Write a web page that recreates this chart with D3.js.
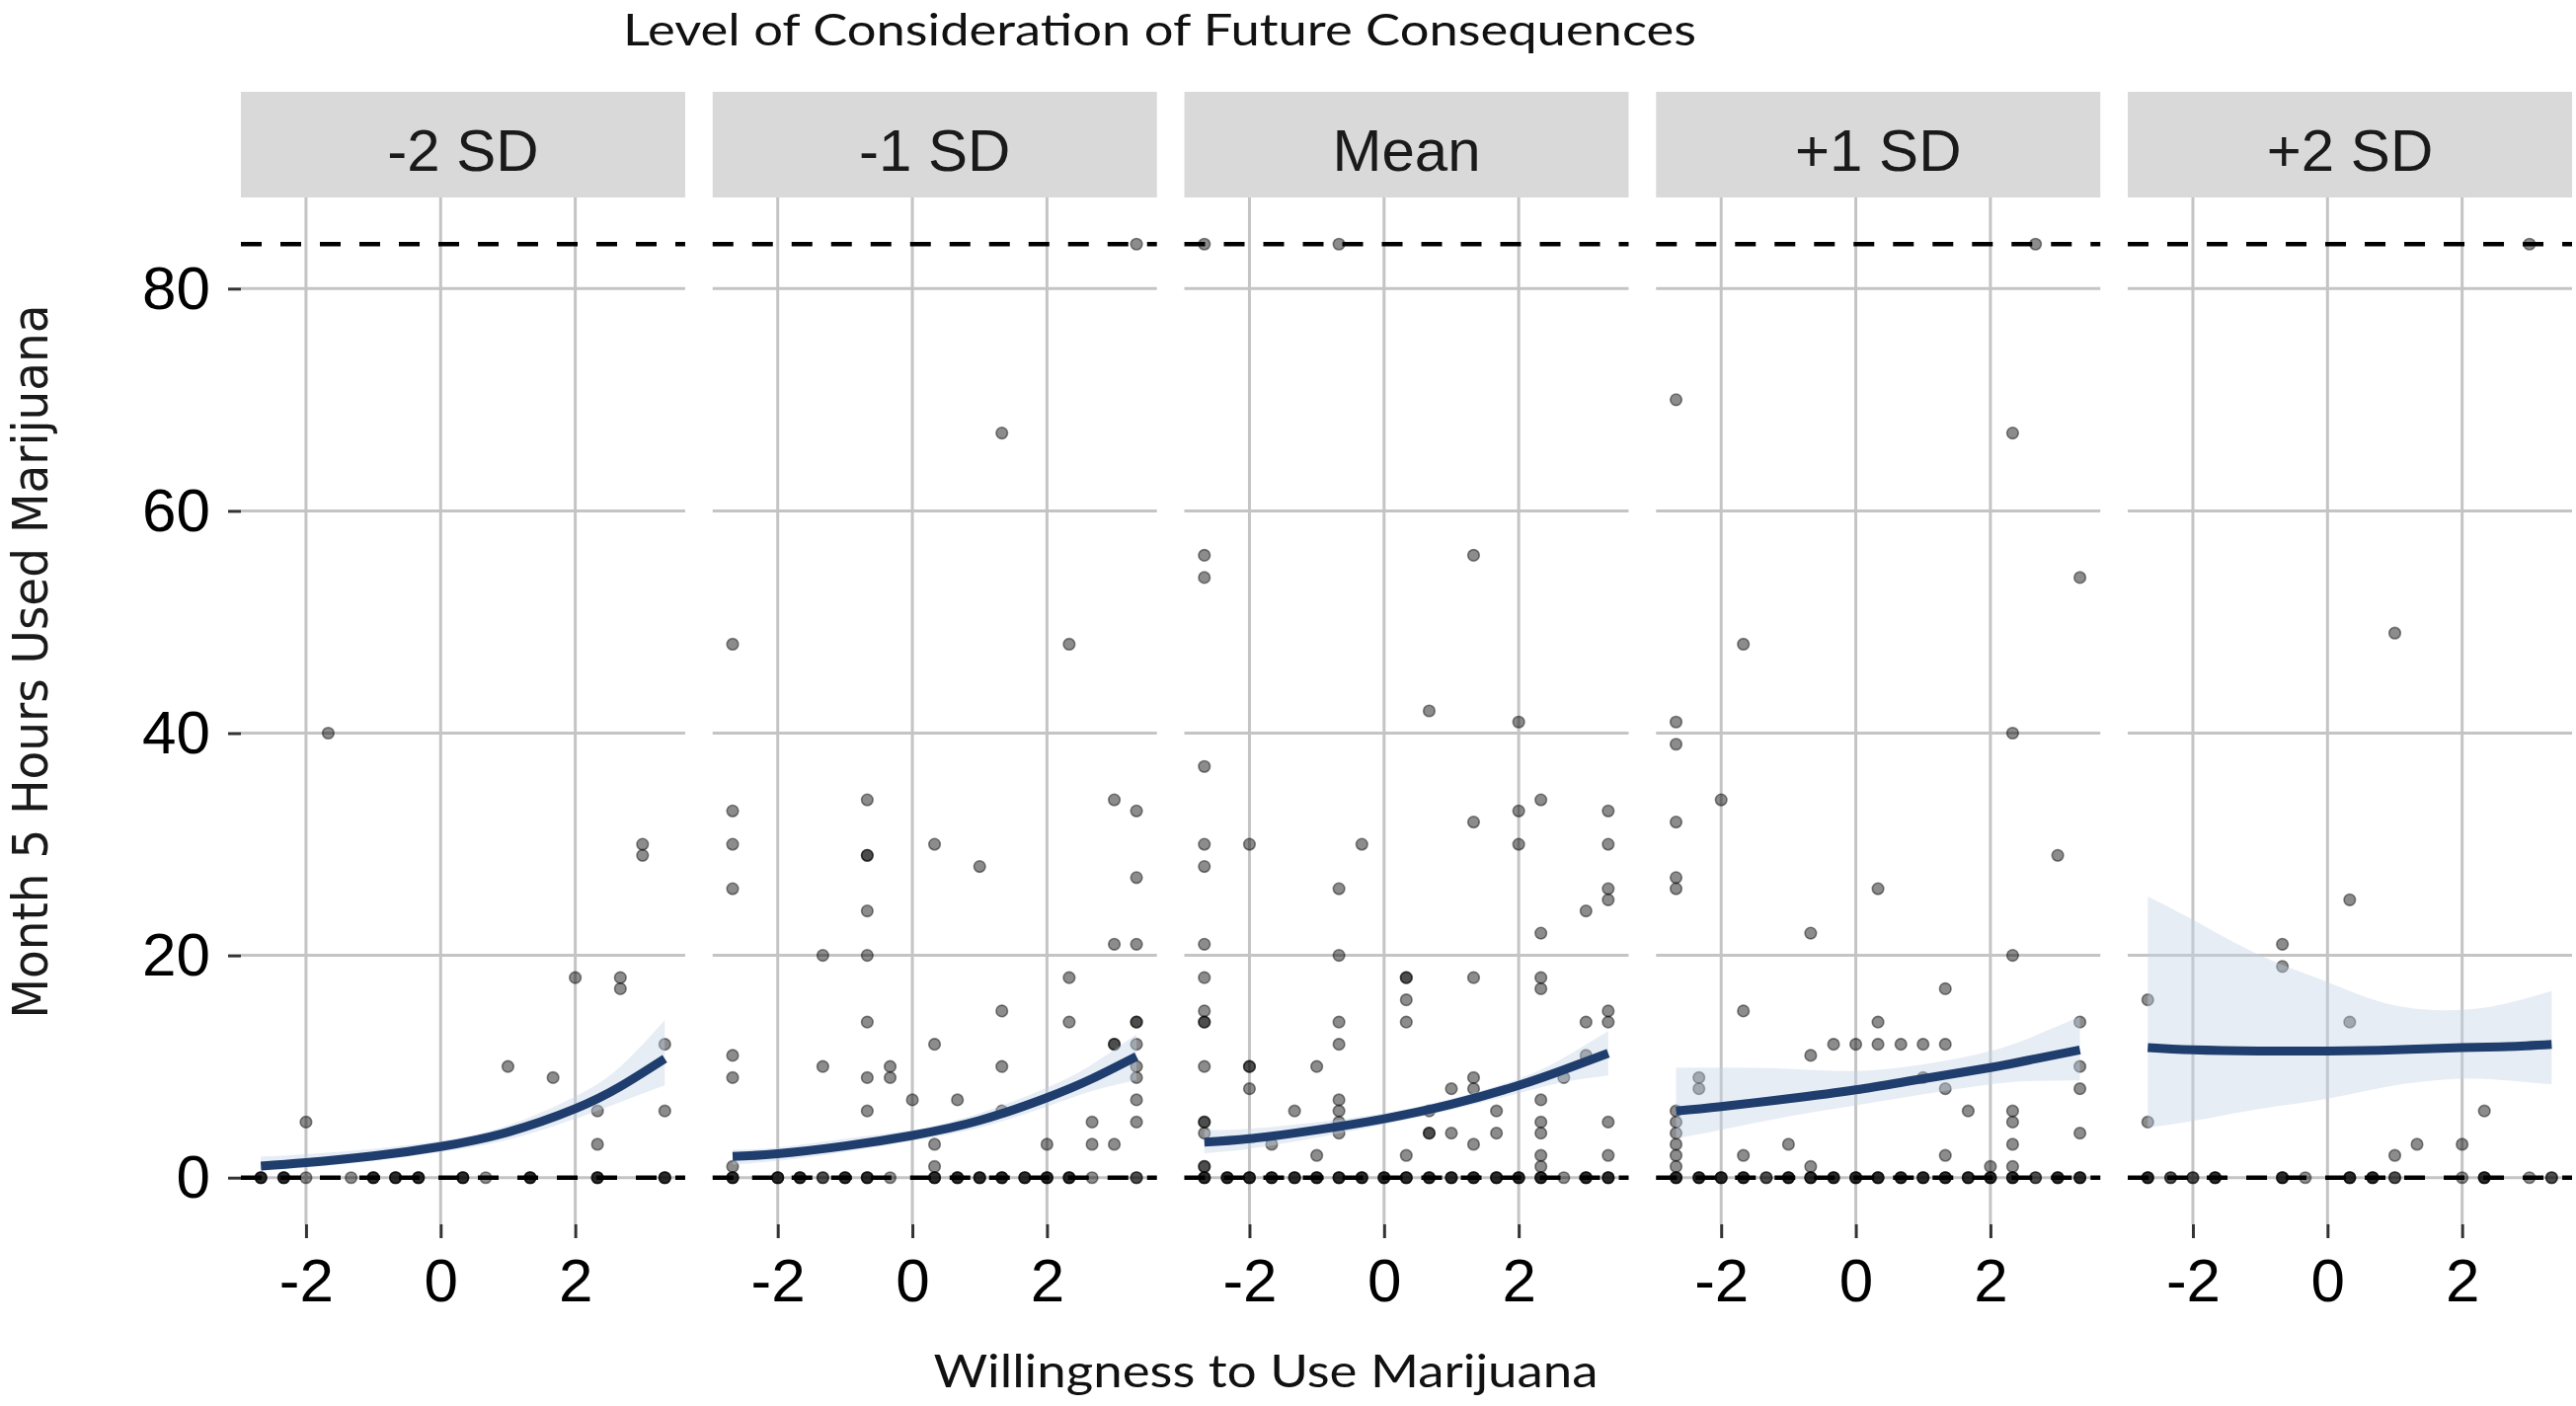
<!DOCTYPE html>
<html>
<head>
<meta charset="utf-8">
<script src="https://cdn.jsdelivr.net/npm/d3@7"></script>
<style>
  body { margin: 0; background: #fff; }
  svg { display: block; }
</style>
</head>
<body>
<svg id="chart" width="2609" height="1424"></svg>
<script>
// facet levels, axis ticks, reference lines
const PANELS = ['-2 SD', '-1 SD', 'Mean', '+1 SD', '+2 SD'];
const X_TICKS = [-2, 0, 2];
const Y_TICKS = [0, 20, 40, 60, 80];
const REF_LINES = [0, 84];

// fitted curve + ribbon, read at these x positions
const FIT_X = [-2.67, -2, -1, 0, 1, 2, 2.67, 3.33];
const FIT = [
  [1.05, 1.35, 1.95, 2.8, 4.1, 6.2, 8.2, 10.7],
  [1.9, 2.15, 2.85, 3.8, 5.15, 7.2, 8.9, 10.9],
  [3.2, 3.5, 4.3, 5.3, 6.6, 8.3, 9.7, 11.2],
  [6.0, 6.4, 7.1, 7.9, 8.9, 9.9, 10.7, 11.5],
  [11.7, 11.5, 11.4, 11.4, 11.5, 11.7, 11.8, 12.0],
];
const LOWER = [
  [0.6, 0.9, 1.5, 2.3, 3.4, 5.3, 6.8, 8.3],
  [1.2, 1.5, 2.3, 3.3, 4.5, 6.4, 7.8, 8.8],
  [2.2, 2.6, 3.6, 4.8, 6.1, 7.6, 8.6, 9.2],
  [3.5, 4.3, 5.5, 6.5, 7.5, 8.4, 8.7, 8.75],
  [4.5, 5.1, 6.2, 7.1, 8.3, 8.9, 8.75, 8.4],
];
const UPPER = [
  [1.9, 2.1, 2.6, 3.3, 4.7, 7.3, 10.0, 14.2],
  [2.5, 2.7, 3.5, 4.3, 5.8, 8.1, 10.2, 12.9],
  [4.3, 4.4, 5.0, 5.8, 7.1, 8.9, 10.8, 13.2],
  [9.9, 9.9, 9.8, 9.6, 10.2, 11.4, 12.8, 14.5],
  [25.3, 23.2, 20.0, 17.6, 15.5, 15.1, 15.7, 16.8],
];

// observed points with hours > 0: [willingness, hours]
const POINTS_M2 = [[-1.67,40],[3,30],[3,29],[2,18],[2.67,18],[2.67,17],[3.33,12],[1,10],[1.67,9],
  [2.33,6],[3.33,6],[-2,5],[2.33,3]];
const POINTS_M1 = [[1.33,67],[3.33,84],[-2.67,48],[2.33,48],[-2.67,33],[-2.67,30],[-2.67,26],[-2.67,11],
  [-2.67,9],[-2.67,1],[-1.33,20],[-1.33,10],[-0.67,34],[-0.67,29],[-0.67,29],[-0.67,24],[-0.67,20],
  [-0.67,14],[-0.67,9],[-0.67,6],[-0.33,10],[-0.33,9],[0,7],[0.33,30],[0.33,12],[0.33,3],[0.33,1],
  [0.67,7],[1,28],[1.33,15],[1.33,10],[1.33,6],[2,3],[2.33,18],[2.33,14],[2.67,5],[2.67,3],[3,34],
  [3,21],[3,12],[3,12],[3,3],[3.33,33],[3.33,27],[3.33,21],[3.33,14],[3.33,14],[3.33,12],[3.33,10],
  [3.33,9],[3.33,7],[3.33,5]];
const POINTS_MEAN = [[-2.67,84],[-0.67,84],[-2.67,56],[-2.67,54],[1.33,56],[0.67,42],[2,41],[-2.67,37],
  [-2.67,30],[-2.67,28],[-2,30],[-0.33,30],[1.33,32],[2,33],[2,30],[2.33,34],[3.33,33],[3.33,30],
  [3.33,26],[3.33,25],[3,24],[2.33,22],[-0.67,26],[-0.67,20],[-0.67,14],[-0.67,12],[-0.67,7],[-0.67,6],
  [-0.67,5],[-0.67,4],[-2.67,21],[-2.67,18],[-2.67,15],[-2.67,14],[-2.67,14],[-2.67,10],[-2.67,5],
  [-2.67,5],[-2.67,4],[-2.67,1],[-2.67,1],[0.33,18],[0.33,18],[0.33,16],[0.33,14],[0.33,2],[1.33,18],
  [1.33,9],[1.33,8],[1.33,3],[2.33,18],[2.33,17],[2.33,7],[2.33,5],[2.33,4],[2.33,2],[2.33,1],[3,14],
  [3.33,15],[3.33,14],[3.33,5],[3.33,2],[3,11],[2.67,9],[-2,10],[-2,10],[-2,8],[-1,10],[-1.33,6],
  [-1.67,3],[-1,2],[0.67,4],[0.67,4],[0.67,6],[1,8],[1,4],[1.67,6],[1.67,4]];
const POINTS_P1 = [[-2.67,70],[2.33,67],[2.67,84],[3.33,54],[-1.67,48],[-2.67,41],[-2.67,39],[2.33,40],
  [-2,34],[-2.67,32],[-2.67,27],[-2.67,26],[3,29],[0.33,26],[-0.67,22],[2.33,20],[1.33,17],[-1.67,15],
  [0.33,14],[-0.33,12],[0,12],[0.33,12],[0.67,12],[1,12],[1.33,12],[-0.67,11],[3.33,14],[3.33,10],
  [3.33,8],[3.33,4],[-2.33,9],[-2.33,8],[1.33,8],[1,9],[1.67,6],[2.33,6],[2.33,5],[2.33,3],[2.33,1],
  [-2.67,6],[-2.67,5],[-2.67,4],[-2.67,3],[-2.67,2],[-2.67,1],[-1.67,2],[-1,3],[-0.67,1],[1.33,2],[2,1]];
const POINTS_P2 = [[3,84],[1,49],[0.33,25],[-0.67,21],[-0.67,19],[-2.67,16],[0.33,14],[-2.67,5],[2.33,6],
  [1.33,3],[2,3],[1,2]];

// willingness values of the zero-hour points (repeats are overlapping points)
const ZEROS_M2 = [-2.67,-2.67,-2.67,-2.33,-2.33,-2.33,-2,-1.33,-1,-1,-1,-0.67,-0.67,-0.67,-0.33,-0.33,
  -0.33,0.33,0.33,0.33,0.67,1.33,1.33,1.33,2.33,2.33,2.33,3.33,3.33,3.33];
const ZEROS_M1 = [-2.67,-2.67,-2.67,-2,-2,-2,-1.67,-1.67,-1.67,-1.33,-1.33,-1,-1,-1,-0.67,-0.67,-0.67,
  -0.33,0.33,0.33,0.33,0.67,0.67,0.67,1,1,1,1.33,1.33,1.33,1.67,1.67,1.67,2,2,2,2.33,2.33,2.33,2.67,
  3.33,3.33];
const ZEROS_MEAN = [-2.67,-2.67,-2.67,-2.33,-2.33,-2.33,-2,-2,-2,-1.67,-1.67,-1.67,-1.33,-1.33,-1.33,
  -1,-1,-1,-0.67,-0.67,-0.67,-0.33,-0.33,-0.33,0,0,0,0.33,0.33,0.33,0.67,0.67,0.67,1,1,1,1.33,1.33,
  1.33,1.67,1.67,1.67,2,2,2,2.33,2.33,2.33,2.67,3,3,3,3.33,3.33,3.33];
const ZEROS_P1 = [-2.67,-2.67,-2.67,-2.33,-2.33,-2.33,-2,-2,-2,-1.67,-1.67,-1.67,-1.33,-1.33,-1,-1,-1,
  -0.67,-0.67,-0.67,-0.33,-0.33,-0.33,0,0,0,0.33,0.33,0.33,0.67,0.67,0.67,1,1,1,1.33,1.33,1.33,1.67,
  1.67,1.67,2,2,2,2.33,2.33,2.33,2.67,2.67,3,3,3,3.33,3.33,3.33];
const ZEROS_P2 = [-2.67,-2.67,-2.67,-2.33,-2.33,-2,-2,-1.67,-1.67,-1.67,-0.67,-0.67,-0.67,-0.33,0.33,
  0.33,0.33,0.67,0.67,0.67,1,1,2,2.33,2.33,2.33,3,3.33,3.33];

const POINTS = [POINTS_M2, POINTS_M1, POINTS_MEAN, POINTS_P1, POINTS_P2];
const ZEROS = [ZEROS_M2, ZEROS_M1, ZEROS_MEAN, ZEROS_P1, ZEROS_P2];

const svg = d3.select('#chart');
const STRIP_TOP = 93;
const TICK_FONT = '"Liberation Sans", Arial, sans-serif';

const panelX = d3.scaleBand().domain(PANELS).range([244, 2605]).paddingInner(0.0582);
const PW = panelX.bandwidth();
const x = d3.scaleLinear().domain([-2.967, 3.633]).range([0, PW]);
const y = d3.scaleLinear().domain([-4.2, 88.2]).range([1240, 200]);
const [yBottom, yTop] = y.range();

svg.append('defs').append('clipPath').attr('id', 'panelClip')
  .append('rect').attr('x', 0).attr('y', yTop).attr('width', PW).attr('height', yBottom - yTop);

PANELS.forEach((name, i) => {
  const g = svg.append('g').attr('transform', `translate(${panelX(name)},0)`);

  // strip
  g.append('rect').attr('x', 0).attr('y', STRIP_TOP).attr('width', PW).attr('height', yTop - STRIP_TOP)
    .attr('fill', '#d9d9d9');
  g.append('text').attr('x', PW / 2).attr('y', 172.5).attr('text-anchor', 'middle')
    .style('font-family', TICK_FONT).style('font-size', '60px').attr('fill', '#1a1a1a').text(name);

  // grid
  g.selectAll('.hgrid').data(Y_TICKS).join('line').attr('class', 'hgrid')
    .attr('x1', 0).attr('x2', PW).attr('y1', d => y(d)).attr('y2', d => y(d))
    .attr('stroke', '#c4c4c4').attr('stroke-width', 3);
  g.selectAll('.vgrid').data(X_TICKS).join('line').attr('class', 'vgrid')
    .attr('x1', d => x(d)).attr('x2', d => x(d)).attr('y1', yTop).attr('y2', yBottom)
    .attr('stroke', '#c4c4c4').attr('stroke-width', 3);

  const body = g.append('g').attr('clip-path', 'url(#panelClip)');

  // points
  const pts = POINTS[i].concat(ZEROS[i].map(v => [v, 0]));
  body.selectAll('circle').data(pts).join('circle')
    .attr('cx', d => x(d[0])).attr('cy', d => y(d[1])).attr('r', 5.8)
    .attr('fill', '#000').attr('fill-opacity', 0.45)
    .attr('stroke', '#000').attr('stroke-opacity', 0.45).attr('stroke-width', 1.6);

  // ribbon + fit
  const band = FIT_X.map((v, j) => ({ x: v, lo: LOWER[i][j], hi: UPPER[i][j], fit: FIT[i][j] }));
  body.append('path').datum(band)
    .attr('d', d3.area().x(d => x(d.x)).y0(d => y(d.lo)).y1(d => y(d.hi)).curve(d3.curveNatural))
    .attr('fill', '#c4d1e6').attr('fill-opacity', 0.4);
  body.append('path').datum(band)
    .attr('d', d3.line().x(d => x(d.x)).y(d => y(d.fit)).curve(d3.curveNatural))
    .attr('fill', 'none').attr('stroke', '#1f3d6d').attr('stroke-width', 9);

  // dashed reference lines
  g.selectAll('.ref').data(REF_LINES).join('line').attr('class', 'ref')
    .attr('x1', 0).attr('x2', PW).attr('y1', d => y(d)).attr('y2', d => y(d))
    .attr('stroke', '#000').attr('stroke-width', 4.5).attr('stroke-dasharray', '21,19');

  // x axis
  const xa = g.append('g').attr('transform', `translate(0,${yBottom})`)
    .call(d3.axisBottom(x).tickValues(X_TICKS).tickFormat(d => String(d)).tickSize(14).tickPadding(20));
  xa.select('.domain').remove();
  xa.selectAll('line').attr('stroke', '#333').attr('stroke-width', 3);
  xa.selectAll('text').style('font-family', TICK_FONT).style('font-size', '62px').attr('fill', '#000');

  if (i === 0) {
    const ya = g.append('g')
      .call(d3.axisLeft(y).tickValues(Y_TICKS).tickSize(13).tickPadding(18));
    ya.select('.domain').remove();
    ya.selectAll('line').attr('stroke', '#333').attr('stroke-width', 3);
    ya.selectAll('text').style('font-family', TICK_FONT).style('font-size', '62px').attr('fill', '#000');
  }
});

// titles
svg.append('text').attr('x', 1174.5).attr('y', 45.5).attr('text-anchor', 'middle')
  .attr('textLength', 1087).attr('lengthAdjust', 'spacingAndGlyphs')
  .style('font-family', 'Lato, "Open Sans", sans-serif').style('font-size', '45px').attr('fill', '#111')
  .text('Level of Consideration of Future Consequences');

svg.append('text').attr('x', 1282).attr('y', 1405).attr('text-anchor', 'middle')
  .attr('textLength', 673).attr('lengthAdjust', 'spacingAndGlyphs')
  .style('font-family', 'Lato, "Open Sans", sans-serif').style('font-size', '47px').attr('fill', '#111')
  .text('Willingness to Use Marijuana');

svg.append('text').attr('transform', 'translate(48,670) rotate(-90)').attr('text-anchor', 'middle')
  .attr('textLength', 723).attr('lengthAdjust', 'spacingAndGlyphs')
  .style('font-family', '"DejaVu Sans", sans-serif').style('font-size', '50px').attr('fill', '#1a1a1a')
  .text('Month 5 Hours Used Marijuana');
</script>
</body>
</html>
